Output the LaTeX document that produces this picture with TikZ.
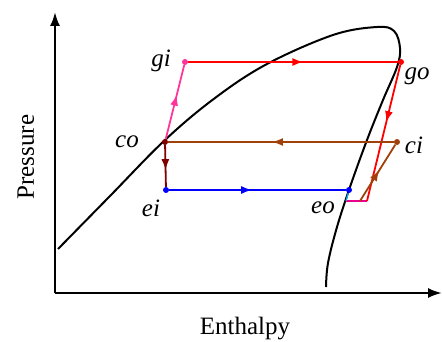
\documentclass[tikz,border=0pt]{standalone}
\usepackage{fontspec}
\setmainfont{Liberation Serif}
\usetikzlibrary{arrows.meta,positioning,decorations.markings}
\definecolor{Gcolor}{HTML}{FF0000}
\definecolor{Pcolor}{HTML}{FF3399}
\definecolor{Ccolor}{HTML}{A0400A}
\definecolor{Mcolor}{HTML}{800000}
\definecolor{Ecolor}{HTML}{0000FF}

\begin{document}
\begin{tikzpicture}[
  x=1pt, y=-1pt,
  font=\fontsize{25}{30}\selectfont,
  pt/.style={circle, inner sep=0pt, minimum size=6pt},
  lbl/.style={inner sep=0pt, anchor=base, font=\fontsize{25}{30}\selectfont\itshape},
  axis/.style={line width=2.2pt, -{Latex[length=14pt, width=10pt]}},
  arr/.style={line width=1.8pt, postaction={decorate},
    decoration={markings, mark=at position #1 with {\arrow{Latex[length=11pt, width=8pt]}}}},
  arr/.default=0.55,
]
  \useasboundingbox (0,0) rectangle (442,342);

  % Axes
  \coordinate (O) at (55,293);
  \coordinate (ytop) at (55,12);
  \coordinate (xend) at (442,293);
  \draw[axis] (O) -- (ytop);
  \draw[axis] (O) -- (xend);
  \node[anchor=base] (xlbl) at (245,334) {Enthalpy};
  \node[anchor=base, rotate=90] (ylbl) at (34,157) {Pressure};

  % Saturation dome
  \draw[line width=2pt] plot[smooth, tension=0.6] coordinates {
    (58,249) (110,196) (165,140) (215,98) (267,64) (333,35) (377,27)
    (394,31) (400,48) (397,67) (383,100) (367,140) (350,187) (337,227)
    (328,263) (326,287)};

  % Nodes
  \node[pt, fill=Pcolor] (gi) at (185,62) {};
  \node[pt, fill=Gcolor] (go) at (401,62) {};
  \node[pt, fill=Mcolor] (co) at (165,142) {};
  \node[pt, fill=Ccolor] (ci) at (397,142) {};
  \node[pt, fill=Ecolor] (ei) at (166,190) {};
  \node[pt, fill=Ecolor] (eo) at (349,190) {};
  \coordinate (sh) at (346,201);
  \coordinate (cb) at (360,201);
  \coordinate (gb) at (367,201);

  % Edges
  \draw[magenta, line width=1.6pt] (sh) -- (gb);
  \draw[cyan, line width=1.2pt] (eo) -- (sh);
  \draw[arr, Gcolor] (gi) -- (go);
  \draw[arr=0.42, Gcolor] (go) -- (gb);
  \draw[arr=0.54, Ccolor] (ci) -- (co);
  \draw[arr=0.6, Mcolor] (co) -- (ei);
  \draw[arr=0.6, Pcolor] (co) -- (gi);
  \draw[arr=0.47, Ecolor] (ei) -- (eo);
  \draw[arr=0.55, Ccolor] (cb) -- (ci);

  % Labels
  \node[lbl] (gilbl) at (161,66.5) {gi};
  \node[lbl] (golbl) at (417,80) {go};
  \node[lbl] (colbl) at (127,148) {co};
  \node[lbl] (cilbl) at (414,154) {ci};
  \node[lbl] (eilbl) at (151,216.5) {ei};
  \node[lbl] (eolbl) at (323,213) {eo};
\end{tikzpicture}
\end{document}
